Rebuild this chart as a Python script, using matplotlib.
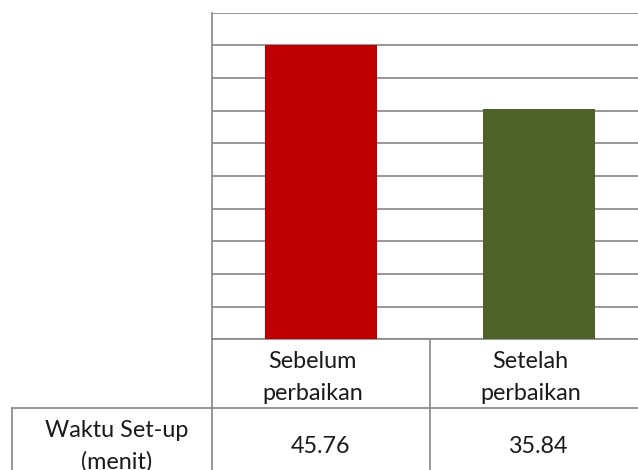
import numpy as np
import matplotlib.pyplot as plt
import matplotlib.transforms as mtransforms
from matplotlib.lines import Line2D

plt.rcParams['font.family'] = ['Lato', 'DejaVu Sans']

categories = [["Sebelum", "perbaikan"], ["Setelah", "perbaikan"]]
values = [45.76, 35.84]
value_labels = ["45.76", "35.84"]
row_header = ["Waktu Set-up", "(menit)"]
bar_colors = ["#C00000", "#4F6228"]

grid_col = "#868686"
W, H = 638, 470

fig = plt.figure(figsize=(W / 100, H / 100), dpi=100)
# axes placed in pixels: left 212, right 648 (runs off the image), top 12.7, bottom 339.3
ax = fig.add_axes([212 / W, (H - 339.3) / H, 436 / W, 326.6 / H])

x = np.arange(len(values))
ax.bar(x, values, width=0.517, color=bar_colors, zorder=3)

ymax = 50.84
ax.set_ylim(0, ymax)
ax.set_xlim(-0.5, len(values) - 0.5)
ax.set_yticks(np.linspace(0, ymax, 11))
ax.set_yticklabels([])
ax.set_xticks([])
ax.tick_params(axis='y', length=0)
ax.yaxis.grid(True, color=grid_col, lw=1.2, zorder=0)
for s in ['top', 'right', 'bottom']:
    ax.spines[s].set_visible(False)
ax.spines['left'].set_color(grid_col)
ax.spines['left'].set_linewidth(1.2)

# data table below the plot: x in data units, y in axes fraction
tr = mtransforms.blended_transform_factory(ax.transData, ax.transAxes)
px = 1 / 326.6
row1_bot = -(408.3 - 339.3) * px
table_bot = -(500 - 339.3) * px
head_left = -0.5 - (212 - 12.3) / 218


def line(xs, ys):
    ax.add_line(Line2D(xs, ys, transform=tr, color=grid_col, lw=1.2, clip_on=False))


line([-0.5, len(values) - 0.5], [0, 0])
line([-0.5, -0.5], [0, table_bot])
for i in range(1, len(values)):
    line([i - 0.5, i - 0.5], [0, table_bot])
line([head_left, len(values) - 0.5], [row1_bot, row1_bot])
line([head_left, head_left], [row1_bot, table_bot])

fs = 16.8
tc = '#1a1a1a'
for i, lab in enumerate(categories):
    ax.text(i - 0.04, -(368.3 - 339.3) * px, lab[0], transform=tr, ha='center',
            va='baseline', fontsize=fs, color=tc)
    ax.text(i - 0.04, -(400 - 339.3) * px, lab[1], transform=tr, ha='center',
            va='baseline', fontsize=fs, color=tc)
    ax.text(i, -(453.3 - 339.3) * px, value_labels[i], transform=tr, ha='center',
            va='baseline', fontsize=fs, color=tc)

hx = (head_left - 0.5) / 2 + 0.02
ax.text(hx, -(436.7 - 339.3) * px, row_header[0], transform=tr, ha='center',
        va='baseline', fontsize=fs, color=tc)
ax.text(hx, -(468.4 - 339.3) * px, row_header[1], transform=tr, ha='center',
        va='baseline', fontsize=fs, color=tc)

fig.savefig('out.png', dpi=100)
